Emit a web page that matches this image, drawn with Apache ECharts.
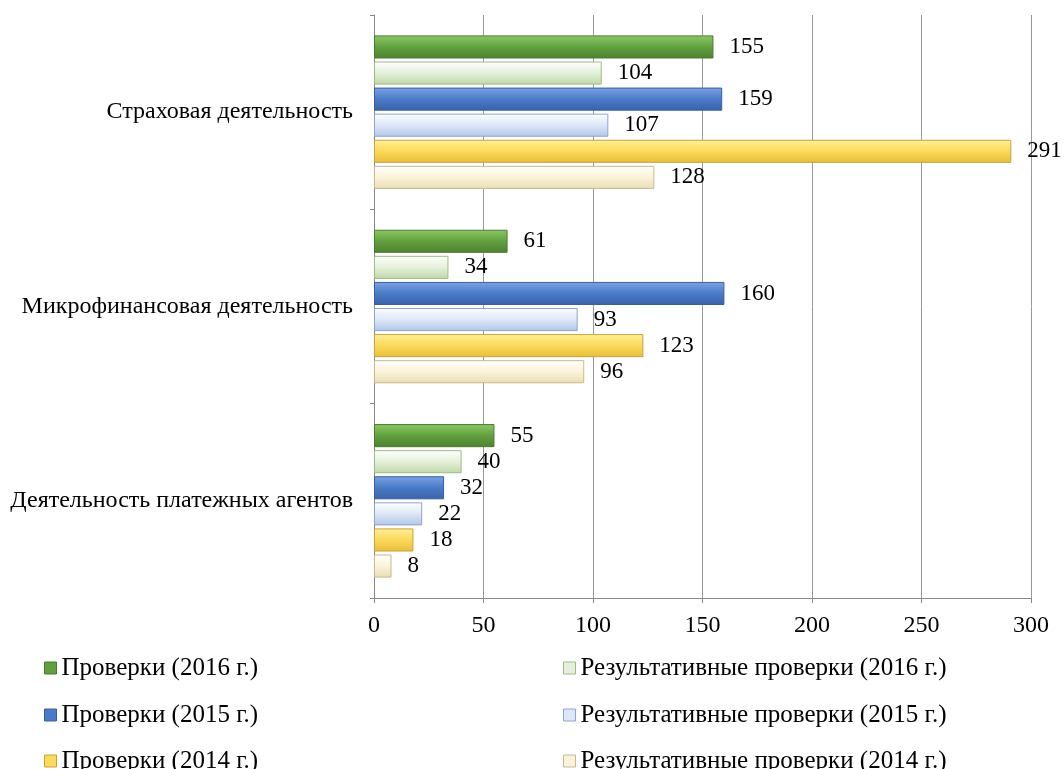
<!DOCTYPE html>
<html>
<head>
<meta charset="utf-8">
<script src="https://cdn.jsdelivr.net/npm/echarts@6/dist/echarts.min.js"></script>
<style>
  html, body { margin: 0; padding: 0; background: #fff; }
  #chart { width: 1064px; height: 769px; }
</style>
</head>
<body>
<div id="chart"></div>
<script>
// categories, bottom to top
const categories = ['Деятельность платежных агентов', 'Микрофинансовая деятельность', 'Страховая деятельность']
const seriesNames = [
  'Проверки (2016 г.)', 'Результативные проверки (2016 г.)',
  'Проверки (2015 г.)', 'Результативные проверки (2015 г.)',
  'Проверки (2014 г.)', 'Результативные проверки (2014 г.)'
]
const checks2016 = [55, 61, 155]
const result2016 = [40, 34, 104]
const checks2015 = [32, 160, 159]
const result2015 = [22, 93, 107]
const checks2014 = [18, 123, 291]
const result2014 = [8, 96, 128]
const xTicks = [0, 50, 100, 150, 200, 250, 300]

const values = [checks2016, result2016, checks2015, result2015, checks2014, result2014]
// [top, mid, bottom, border]
const palette = [
  ['#8dc865', '#62a03f', '#4d8330', '#4a7a2e'],
  ['#ffffff', '#e4f0d9', '#bfd8aa', '#9dbb86'],
  ['#7aa3e3', '#4b7bc8', '#3a62a8', '#38609f'],
  ['#ffffff', '#dce7f7', '#b3c6e6', '#8ea5cc'],
  ['#fff19a', '#fbd95a', '#e8bd3c', '#c9a23a'],
  ['#ffffff', '#faf3d8', '#e9ddb5', '#c8b98e']
]

function grad (c) {
  return new echarts.graphic.LinearGradient(0, 0, 0, 1, [
    { offset: 0, color: c[0] },
    { offset: 0.5, color: c[1] },
    { offset: 1, color: c[2] }
  ])
}

const font = 'Liberation Serif, Times New Roman, serif'

let series = []
for (let i = 0; i < values.length; i++) {
  series.push({
    name: seriesNames[i],
    type: 'bar',
    data: values[i],
    barGap: '13%',
    barCategoryGap: '21%',
    itemStyle: {
      color: grad(palette[i]),
      borderColor: palette[i][3],
      borderWidth: 1
    },
    label: {
      show: true,
      position: 'right',
      distance: 16,
      color: '#000',
      fontFamily: font,
      fontSize: 23
    }
  })
}

// one legend per item: two columns, three rows
const legendLeft = [44, 563]
const legendTop = [655, 702, 748]
let legends = []
for (let i = 0; i < seriesNames.length; i++) {
  legends.push({
    left: legendLeft[i % 2],
    top: legendTop[Math.floor(i / 2)],
    padding: 0,
    itemWidth: 12,
    itemHeight: 12,
    icon: 'rect',
    textStyle: { fontFamily: font, fontSize: 25, lineHeight: 26, color: '#000' },
    data: [{ name: seriesNames[i], itemStyle: { color: palette[i][1], borderColor: palette[i][3], borderWidth: 1 } }]
  })
}

let option = {
  animation: false,
  grid: { left: 374, right: 33, top: 15, bottom: 171 },
  legend: legends,
  xAxis: {
    type: 'value',
    min: 0,
    max: 300,
    interval: 50,
    axisLine: { show: true, lineStyle: { color: '#888' } },
    axisTick: { show: true, length: 5, lineStyle: { color: '#888' } },
    splitLine: { show: true, lineStyle: { color: '#999' } },
    axisLabel: {
      fontFamily: font, fontSize: 24, color: '#000', margin: 16,
      formatter: function (v) { return xTicks.indexOf(v) >= 0 ? String(v) : '' }
    }
  },
  yAxis: {
    type: 'category',
    data: categories,
    axisLine: { show: true, lineStyle: { color: '#888' } },
    axisTick: { show: true, length: 4, lineStyle: { color: '#888' } },
    axisLabel: { fontFamily: font, fontSize: 24, color: '#000', margin: 21 }
  },
  series: series
}

let chart = echarts.init(document.getElementById('chart'))
chart.setOption(option)
</script>
</body>
</html>
